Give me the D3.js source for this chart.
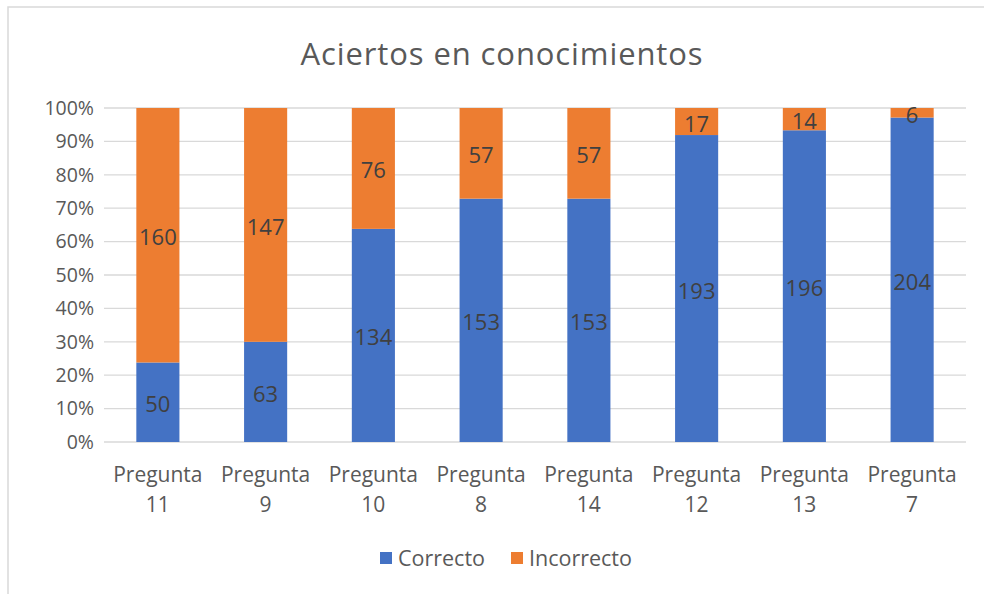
<!DOCTYPE html>
<html>
<head>
<meta charset="utf-8">
<script src="https://cdn.jsdelivr.net/npm/d3@7"></script>
<style>
  body { margin: 0; background: #fff; }
  svg { display: block; font-family: "Open Sans", sans-serif; }
</style>
</head>
<body>
<svg id="chart" width="984" height="594"></svg>
<script>
// Chart data
const categories = ['Pregunta 11', 'Pregunta 9', 'Pregunta 10', 'Pregunta 8', 'Pregunta 14', 'Pregunta 12', 'Pregunta 13', 'Pregunta 7'];
const correcto = [50, 63, 134, 153, 153, 193, 196, 204];
const incorrecto = [160, 147, 76, 57, 57, 17, 14, 6];
const seriesNames = ['Correcto', 'Incorrecto'];
const yTicks = [0, 0.1, 0.2, 0.3, 0.4, 0.5, 0.6, 0.7, 0.8, 0.9, 1];

const colors = d3.scaleOrdinal().domain(seriesNames).range(['#4472C4', '#ED7D31']);

const svg = d3.select('#chart');

// chart border (cropped at right / bottom)
svg.append('rect')
  .attr('x', 8).attr('y', 7)
  .attr('width', 1000).attr('height', 620)
  .attr('fill', '#fff')
  .attr('stroke', '#d9d9d9')
  .attr('stroke-width', 1.5);

// title
svg.append('text')
  .attr('x', 502).attr('y', 65)
  .attr('text-anchor', 'middle')
  .attr('font-size', 31)
  .attr('letter-spacing', 0.9)
  .attr('fill', '#595959')
  .text('Aciertos en conocimientos');

// scales
const x = d3.scaleBand()
  .domain(categories)
  .range([104, 966])
  .paddingInner(0.6)
  .paddingOuter(0.3);

const y = d3.scaleLinear().domain([0, 1]).range([442, 108]);

// gridlines
svg.append('g')
  .selectAll('line')
  .data(yTicks)
  .join('line')
  .attr('x1', 104).attr('x2', 966)
  .attr('y1', (d) => y(d)).attr('y2', (d) => y(d))
  .attr('stroke', '#d9d9d9')
  .attr('stroke-width', 1.3);

// y axis labels
const yAxis = svg.append('g')
  .attr('transform', 'translate(104,0)')
  .call(d3.axisLeft(y).tickValues(yTicks).tickFormat(d3.format('.0%')).tickSize(0).tickPadding(10));
yAxis.select('.domain').remove();
yAxis.selectAll('text')
  .attr('font-family', '"Open Sans", sans-serif')
  .attr('font-size', 19.5)
  .attr('fill', '#595959');

// stacked percentages
const rows = categories.map((c, i) => {
  const total = correcto[i] + incorrecto[i];
  return { cat: c, Correcto: correcto[i] / total, Incorrecto: incorrecto[i] / total, raw: { Correcto: correcto[i], Incorrecto: incorrecto[i] } };
});
const stacked = d3.stack().keys(seriesNames)(rows);

const layers = svg.append('g')
  .selectAll('g')
  .data(stacked)
  .join('g')
  .attr('fill', (d) => colors(d.key));

layers.selectAll('rect')
  .data((d) => d)
  .join('rect')
  .attr('x', (d) => x(d.data.cat))
  .attr('width', x.bandwidth())
  .attr('y', (d) => y(d[1]))
  .attr('height', (d) => y(d[0]) - y(d[1]));

// data labels
svg.append('g')
  .selectAll('g')
  .data(stacked)
  .join('g')
  .selectAll('text')
  .data((d) => d.map((v) => ({ v, key: d.key })))
  .join('text')
  .attr('x', (d) => x(d.v.data.cat) + x.bandwidth() / 2)
  .attr('y', (d) => (y(d.v[0]) + y(d.v[1])) / 2 + 1)
  .attr('text-anchor', 'middle')
  .attr('dominant-baseline', 'central')
  .attr('font-size', 22)
  .attr('fill', '#404040')
  .text((d) => d.v.data.raw[d.key]);

// category labels, two lines
const catLabels = svg.append('g')
  .selectAll('text')
  .data(categories)
  .join('text')
  .attr('text-anchor', 'middle')
  .attr('font-size', 21)
  .attr('fill', '#595959');
catLabels.append('tspan')
  .attr('x', (d) => x(d) + x.bandwidth() / 2)
  .attr('y', 482)
  .text((d) => d.split(' ')[0]);
catLabels.append('tspan')
  .attr('x', (d) => x(d) + x.bandwidth() / 2)
  .attr('y', 512)
  .text((d) => d.split(' ')[1]);

// legend
const legendPos = [380, 511];
const legend = svg.append('g')
  .selectAll('g')
  .data(seriesNames)
  .join('g')
  .attr('transform', (d, i) => `translate(${legendPos[i]},552)`);
legend.append('rect')
  .attr('width', 12).attr('height', 12)
  .attr('fill', (d) => colors(d));
legend.append('text')
  .attr('x', 18).attr('y', 14)
  .attr('font-size', 21.5)
  .attr('fill', '#595959')
  .text((d) => d);
</script>
</body>
</html>
